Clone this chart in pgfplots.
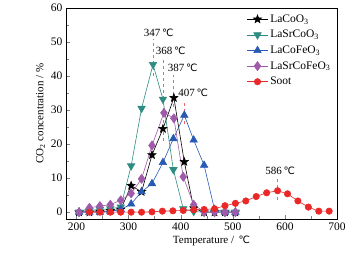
\documentclass[border=0pt]{standalone}
\usepackage{pgfplots}
\pgfplotsset{compat=1.18}
\usepackage{fontspec}
\setmainfont{Liberation Serif}
\newfontfamily\dvfont[Scale=0.92]{DejaVu Sans}
\newcommand{\degC}{\,{\dvfont ℃}}
\usetikzlibrary{plotmarks}
\definecolor{cteal}{RGB}{46,140,130}
\definecolor{cblue}{RGB}{40,90,180}
\definecolor{cpurple}{RGB}{160,90,170}
\definecolor{cred}{RGB}{235,40,40}
\definecolor{cdash}{RGB}{240,100,100}
\pgfdeclareplotmark{fstar}{%
 \pgfpathmoveto{\pgfpointpolar{90}{\pgfplotmarksize}}%
 \pgfpathlineto{\pgfpointpolar{126}{0.42\pgfplotmarksize}}%
 \pgfpathlineto{\pgfpointpolar{162}{\pgfplotmarksize}}%
 \pgfpathlineto{\pgfpointpolar{198}{0.42\pgfplotmarksize}}%
 \pgfpathlineto{\pgfpointpolar{234}{\pgfplotmarksize}}%
 \pgfpathlineto{\pgfpointpolar{270}{0.42\pgfplotmarksize}}%
 \pgfpathlineto{\pgfpointpolar{306}{\pgfplotmarksize}}%
 \pgfpathlineto{\pgfpointpolar{342}{0.42\pgfplotmarksize}}%
 \pgfpathlineto{\pgfpointpolar{18}{\pgfplotmarksize}}%
 \pgfpathlineto{\pgfpointpolar{54}{0.42\pgfplotmarksize}}%
 \pgfpathclose\pgfusepathqfillstroke}
\begin{document}
\begin{tikzpicture}
\useasboundingbox (-66pt,-34pt) rectangle (293pt,219pt);
\begin{axis}[
 scale only axis, width=271pt, height=211pt,
 xmin=180, xmax=700, ymin=-2, ymax=60,
 xtick={200,300,...,700}, ytick={0,10,...,60},
 minor x tick num=1, minor y tick num=1,
 tick align=inside, tick pos=left,
 /pgf/number format/assume math mode=true,
 ticklabel style={font=\fontsize{11.5}{13}\selectfont},
 label style={font=\fontsize{11}{13}\selectfont},
 xlabel={Temperature / \degC},
 ylabel={CO\textsubscript{2} concentration / \%},
 xlabel style={xshift=10pt, yshift=1pt},
 ylabel style={yshift=-1pt},
 every axis plot/.append style={line width=0.6pt},
 legend style={at={(0.655,0.988)}, anchor=north west, draw=none, fill=none,
   font=\fontsize{11.5}{13}\selectfont, row sep=2.5pt},
 legend cell align=left,
 legend image code/.code={\draw[mark repeat=2,mark phase=2] plot coordinates {(0pt,0pt)(10.5pt,0pt)(21pt,0pt)};},
]
\addplot[black, mark=fstar, mark size=4.2pt] coordinates {
(205,0)(225,0)(245,0.2)(265,0.4)(285,0.8)(305,7.8)(325,6.0)(345,16.8)(366,24.5)(387,33.6)(407,14.8)(425,1.2)(445,0)(465,0)(485,0)(505,0)};
\addlegendentry{LaCoO\textsubscript{3}}
\addplot[cteal, mark=triangle*, mark size=4.3pt, mark options={rotate=180}] coordinates {
(205,0)(225,0.5)(245,0.8)(265,1)(285,1.5)(305,13.6)(325,30.5)(347,43.4)(366,33.2)(386,12.5)(405,1)(425,0.2)(445,0)(465,0)(485,0)(505,0)};
\addlegendentry{LaSrCoO\textsubscript{3}}
\addplot[cblue, mark=triangle*, mark size=4.3pt] coordinates {
(205,0)(225,0)(245,0)(265,0.3)(285,0.8)(305,2.4)(325,6.0)(345,8.4)(366,14.6)(386,21.6)(407,28.5)(425,21.2)(445,13.8)(465,0.8)(485,0)(505,0)};
\addlegendentry{LaCoFeO\textsubscript{3}}
\addplot[cpurple, mark=diamond*, mark size=4.5pt] coordinates {
(205,0)(225,1.3)(245,1.8)(265,2.2)(285,3.5)(305,5.5)(325,9.8)(345,19.6)(368,29.2)(387,27.6)(405,10.4)(425,2.2)(445,0.1)(465,0)(485,0)(505,0)};
\addlegendentry{LaSrCoFeO\textsubscript{3}}
\addplot[cred, mark=*, mark size=3.2pt] coordinates {
(225,0)(245,0)(265,0)(285,0)(305,0)(325,0)(345,0.1)(365,0.3)(385,0.4)(405,0.5)(425,0.7)(445,0.8)(465,1.0)(485,1.9)(505,2.6)(525,3.3)(545,4.6)(565,5.7)(586,6.3)(605,5.4)(625,3.3)(645,1.5)(665,0.3)(685,0.3)};
\addlegendentry{Soot}
\addplot[cdash, dashed, line width=1pt, forget plot] coordinates {(347,40)(347,51)};
\addplot[cdash, dashed, line width=1pt, forget plot] coordinates {(368,21)(368,45.5)};
\addplot[cdash, dashed, line width=1pt, forget plot] coordinates {(387,31)(387,40.3)};
\addplot[cdash, dashed, line width=1pt, forget plot] coordinates {(407,26)(407,33)};
\addplot[cdash, dashed, line width=1pt, forget plot] coordinates {(586,3.5)(586,10)};
\node[font=\fontsize{11}{13}\selectfont] at (axis cs:358,52.6) {347\degC};
\node[font=\fontsize{11}{13}\selectfont] at (axis cs:381,47.3) {368\degC};
\node[font=\fontsize{11}{13}\selectfont] at (axis cs:404,42.3) {387\degC};
\node[font=\fontsize{11}{13}\selectfont] at (axis cs:424,35) {407\degC};
\node[font=\fontsize{11}{13}\selectfont] at (axis cs:591,12.1) {586\degC};
\end{axis}
\end{tikzpicture}
\end{document}
